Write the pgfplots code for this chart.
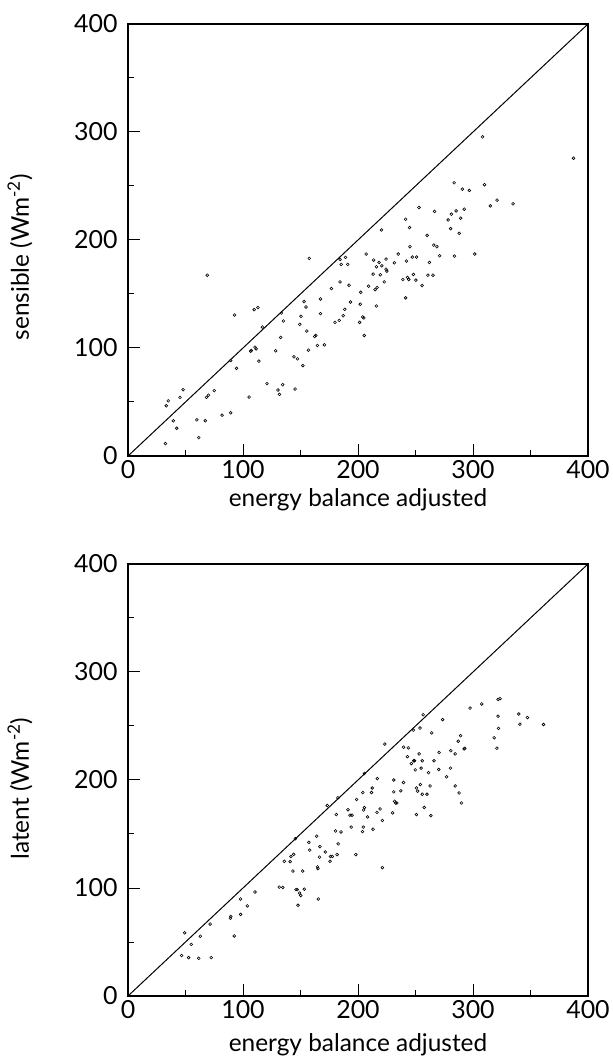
\documentclass[border=0pt]{standalone}
\usepackage{fontspec}
\setmainfont{Lato}
\usepackage{pgfplots}
\pgfplotsset{compat=1.18}
\begin{document}
\begin{tikzpicture}[x=1bp,y=1bp]
\pgfplotsset{
  myaxis/.style={
    width=460bp, height=432bp, scale only axis,
    xmin=0, xmax=400, ymin=0, ymax=400,
    xtick={0,100,200,300,400}, ytick={0,100,200,300,400},
    minor xtick={50,150,250,350}, minor ytick={50,150,250,350},
    xtick pos=left, ytick pos=left,
    tick align=inside,
    major tick length=12bp, minor tick length=6bp,
    every tick/.style={black, line width=1bp},
    axis line style={line width=1.3bp},
    /pgf/number format/assume math mode=true,
    tick label style={font=\fontsize{25}{28}\selectfont},
    label style={font=\fontsize{24.5}{28}\selectfont},
    xticklabel style={yshift=-1bp},
    yticklabel style={xshift=-7bp},
  },
  pts/.style={only marks, mark=o, mark size=1.4bp, mark options={line width=0.6bp, black}},
  diag/.style={black, line width=1bp, no marks},
}
% ---------- top: sensible ----------
\begin{axis}[myaxis, at={(0bp,540bp)}, anchor=south west,
  xlabel={energy balance adjusted},
  ylabel={sensible (Wm\textsuperscript{-2})},
  xlabel style={at={(axis description cs:0.5,-0.102)}, anchor=center},
  ylabel style={at={(axis description cs:-0.235,0.46)}, anchor=center},
]
\addplot[diag] coordinates {(0,0) (400,400)};
\addplot[pts] coordinates {
(32.6,11.5) (33.3,46.5) (35,51) (39.4,32.6) (42.4,25.7) (45.2,54.3) (47.9,61.4)
(59.8,33.5) (61.5,17) (67.2,32.6) (68.3,54.3) (70,56.4) (68.9,167.4) (75,60.5)
(81.8,37.8) (89.3,40) (89.3,88.4) (92.7,130.5) (94.4,81.2) (105.3,54.6) (106.6,97)
(107.3,97.7) (109.7,135.5) (110.4,100.8) (111.4,99.2) (113,137.4) (113.8,87.8)
(116.8,119.4) (120.9,67) (128.4,97.4) (130.4,61.1) (131.7,57.1) (132.8,109.8)
(133.4,132.4) (134.5,66) (135.1,125) (145.3,62) (144.3,91.8) (147.4,89.9)
(149.4,121.9) (150.4,129.3) (152.1,83.7) (153.1,143) (154.8,138) (155.5,115.7)
(156.9,98) (157.6,183) (162.3,110.7) (163.3,111.6) (164.7,102.3) (167.4,131.8)
(167.4,145.4) (170.8,102.9) (176.9,155) (180,123.7) (183.7,125.6) (184.4,161.2)
(184.4,182) (185.4,177.4) (187.1,129.9) (188.5,135.8) (189.1,183.9) (191.1,177.4)
(192.2,158.1) (193.5,142.6) (201.4,123.7) (202,140.5) (202.4,151.6) (204.1,128.7)
(205.1,127.8) (205.4,111.6) (207.1,187) (209.2,157.2) (213.2,168.4) (213.6,181.4)
(214.9,154.1) (216,175.2) (216,138.9) (216.6,156) (218.3,179.2) (219.4,167.8)
(220.4,209.3) (220.7,176.1) (222.8,161.2) (224.4,173) (224.4,182.3) (225.1,171.2)
(231.6,178.9) (235,187) (239,163.4) (241.4,219.2) (242.1,180.5) (241.4,146.4)
(243.1,165.3) (244.1,163.4) (244.8,211.5) (245.2,193.8) (247.2,184.2) (248.2,168.1)
(250.9,184.2) (250.3,162.8) (253,230.1) (255.7,157.8) (260.1,204.3) (260.8,167.4)
(262.1,179.2) (265.2,167.4) (265.9,195.3) (266.6,226.4) (268.6,193.8) (271,185.4)
(278.4,218.6) (280.5,210.5) (281.2,223.9) (283.6,253) (283.9,185.1) (285.3,227)
(288,206.2) (289.3,220.2) (290.7,247.1) (292.4,228.5) (296.8,245.9) (301.5,187)
(308.3,295.5) (310,251.2) (315.1,231.6) (320.9,236.9) (334.8,233.5) (387.4,275.7)
};
\end{axis}
% ---------- bottom: latent ----------
\begin{axis}[myaxis, at={(0bp,0bp)}, anchor=south west,
  xlabel={energy balance adjusted},
  ylabel={latent (Wm\textsuperscript{-2})},
  xlabel style={at={(axis description cs:0.5,-0.113)}, anchor=center},
  ylabel style={at={(axis description cs:-0.235,0.48)}, anchor=center},
]
\addplot[diag] coordinates {(0,0) (400,400)};
\addplot[pts] coordinates {
(46.6,37.5) (49.3,58.5) (52.7,35.5) (55,47.8) (61.5,34.9) (62.9,55.3) (71.4,66.6)
(72.4,35.5) (89,72) (89.4,73.7) (92.4,55.6) (97.9,89.8) (97.9,75.6) (103.7,83.4)
(110.4,96.3) (131.5,100.8) (134.6,100.5) (135.9,124.7) (141,124.4) (141.7,129.2)
(144.1,131.2) (143.4,115.7) (145.5,145.7) (146.1,98.5) (147.2,98.5) (147.8,84)
(149.2,95.3) (150.2,93.1) (151.9,115.7) (153.3,98.9) (157.3,142.2) (158,135.1)
(164.1,148) (164.8,119.5) (165.2,117.9) (165.5,89.8) (166.9,138.3) (166.5,128.6)
(171.6,133.4) (173.3,176.4) (175.7,124.7) (176,129.2) (177.7,129.2) (180.5,152.8)
(181.1,168) (181.8,130.9) (182.5,183.5) (182.8,140.9) (185.2,151.9) (191.3,172.5)
(193,167.4) (194.1,156.4) (194.8,167.4) (198.1,130.9) (198.8,181.9) (203.9,152.2)
(204.6,156.4) (204.2,188.4) (204.9,172.2) (205.6,174.5) (205.6,206.1) (208.3,165.8)
(211.7,188.4) (212.4,192.6) (213.1,154.4) (216.5,170) (216.8,201.3) (219.2,173.2)
(221.2,162.5) (221.2,118.9) (223.3,233.3) (230.1,169.6) (231.1,189) (231.1,200)
(231.8,180.3) (232.8,178.7) (233.8,178.7) (237.2,190) (239.6,197.7) (239.6,230.4)
(243,221.6) (243.7,229.7) (246.4,215.2) (248.1,246.2) (248.4,217.8) (249.1,217.8)
(249.8,209.4) (250.8,168) (250.8,192.6) (251.8,189.7) (253.2,224.2) (253.9,248.1)
(254.2,195.8) (254.9,211) (255.9,186.8) (255.9,217.8) (256.6,260.4) (257.6,174.5)
(260,186.8) (261.3,206.8) (262.7,194.5) (263.4,167) (264.1,243.6) (266.1,217.8)
(270.2,209.7) (270.5,225.5) (273.6,255.9) (277,202.9) (280.4,211) (280.7,227.1)
(284.5,224.2) (284.5,194.5) (287.2,235.9) (287.9,188) (289.2,241) (289.9,178.7)
(292.3,228.8) (292.9,229.4) (297.4,266.6) (307.6,270.4) (318.4,239.1) (320.8,229.4)
(321.8,259.1) (322.2,247.8) (321.8,274.6) (323.5,275.3) (339.8,261.1) (340.8,251.7)
(347.3,257.8) (361.3,251.4)
};
\end{axis}
\pgfresetboundingbox
\path (-128bp,-68bp) rectangle (485bp,996bp);
\end{tikzpicture}
\end{document}
